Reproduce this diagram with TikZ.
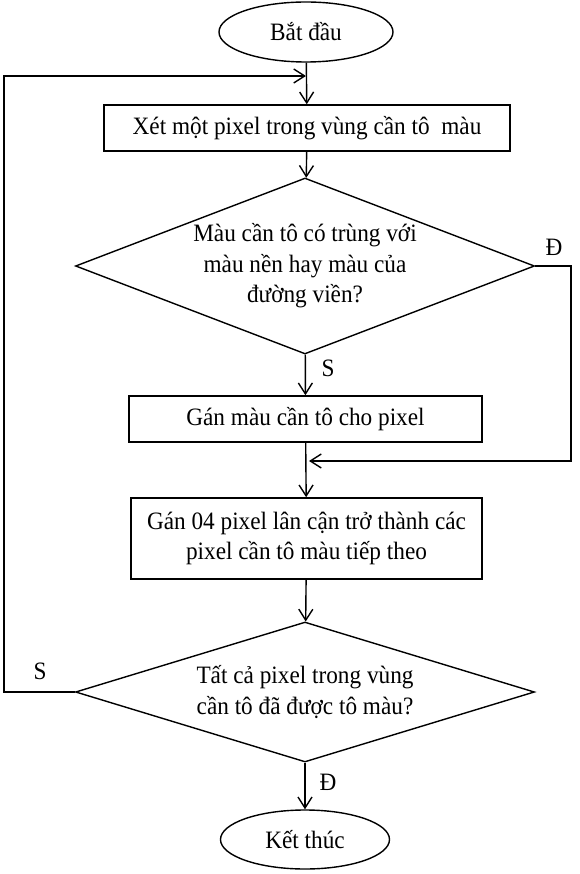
\documentclass[tikz,border=0pt]{standalone}
\usepackage{fontspec}
\setmainfont{Liberation Serif}[FakeStretch=0.93]
\usetikzlibrary{shapes.geometric,arrows.meta}
\begin{document}
\begin{tikzpicture}[x=1pt,y=1pt,
  txt/.style={font=\fontsize{25}{30.5}\selectfont},
  term/.style={txt,draw,ellipse,line width=1.4pt,inner sep=0pt},
  procbox/.style={txt,draw,rectangle,line width=1.5pt,inner sep=0pt,align=center},
  decide/.style={txt,draw,diamond,line width=1.4pt,inner sep=0pt,align=center},
  flow/.style={line width=1.4pt,-{Straight Barb[length=11pt,width=14pt,line width=1.4pt]}},
  lbl/.style={txt,inner sep=0pt}
]
\useasboundingbox (0,0) rectangle (579,-874);
\node[term,minimum width=174pt,minimum height=60pt] (start) at (306,-32) {Bắt đầu};
\node[procbox,minimum width=406pt,minimum height=46pt] (box1) at (307,-128) {Xét một pixel trong vùng cần tô\ \ màu};
\node[decide,minimum width=459pt,minimum height=176pt,aspect=2.6] (dia1) at (305,-266) {Màu cần tô có trùng với\\màu nền hay màu của\\đường viền?};
\node[procbox,minimum width=353pt,minimum height=46pt] (box2) at (305.5,-419) {Gán màu cần tô cho pixel};
\node[procbox,minimum width=351pt,minimum height=81pt] (box3) at (306.5,-538.5) {Gán 04 pixel lân cận trở thành các\\pixel cần tô màu tiếp theo};
\node[decide,minimum width=459pt,minimum height=140pt,aspect=3.3] (dia2) at (305,-692) {Tất cả pixel trong vùng\\cần tô đã được tô màu?};
\node[term,minimum width=169pt,minimum height=59pt] (end) at (305,-839.5) {Kết thúc};

\coordinate (loopA) at (4,-692);
\coordinate (loopB) at (4,-76);
\coordinate (loopC) at (306,-76);
\coordinate (rA) at (571,-266);
\coordinate (rB) at (571,-461);
\coordinate (rC) at (309,-461);

\draw[flow] (start) -- (box1);
\draw[flow] (box1) -- (dia1);
\draw[flow] (dia1) -- (box2);
\draw[flow] (box2) -- (box3);
\draw[flow] (box3) -- (dia2);
\draw[flow] (dia2) -- (end);
\draw[flow] (dia2.west) -- (loopA) -- (loopB) -- (loopC);
\draw[flow] (dia1.east) -- (rA) -- (rB) -- (rC);

\node[lbl] (s1) at (328,-368) {S};
\node[lbl] (d1) at (554,-247) {Đ};
\node[lbl] (s2) at (40,-671) {S};
\node[lbl] (d2) at (328,-782) {Đ};
\end{tikzpicture}
\end{document}
